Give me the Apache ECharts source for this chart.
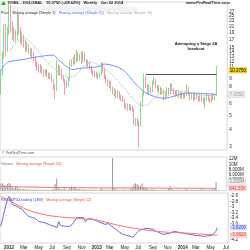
<!DOCTYPE html>
<html><head><meta charset="utf-8">
<script src="https://cdn.jsdelivr.net/npm/echarts@6/dist/echarts.min.js"></script>
<style>html,body{margin:0;padding:0;background:#fff}#c{width:250px;height:250px}</style>
</head><body><div id="c"></div>
<script>
// ---------- categories: weekly bars (Mondays) ----------
const firstWeek = [2011, 10, 28];
const weekCount = 138;
const categories = [];
for (let k = 0; k < weekCount; k++) {
  const d = new Date(Date.UTC(firstWeek[0], firstWeek[1], firstWeek[2]) + k * 7 * 864e5);
  categories.push(d.toISOString().slice(0, 10));
}
const monthNames = ['Jan','Feb','Mar','Apr','May','Jun','Jul','Aug','Sep','Oct','Nov','Dec'];

// ---------- price OHLC [open, close, low, high] ----------
const priceOHLC = [
 [7.5,10,7,10.5],[10,13,9.5,14],[13,20,12.5,22],[20,15,13,22],[15,19,14,21],
 [19,28,18.5,31],[28,21,19,30],[21,18,17,23],[18,19,16.5,21],[19,17.5,16.5,20],
 [17.5,25,17,27.5],[25,20,18.5,26],[20,17,16,21],[17,18,15.5,19.5],[18,16,15,18.5],
 [16,15,14,17],[15,15.5,14,16.5],[15.5,14,13.5,16],[14,14.5,13,15],[14.5,13,12.5,14.8],
 [13,12.5,12,14],[12.5,11.5,11,13],[11.5,11,10.3,12],[11,10.5,10,11.5],[10.5,11,10,11.5],
 [11,10.2,9.8,11.2],[10.2,9.8,9.3,10.5],[9.8,10.3,9.5,10.6],[10.3,9.6,9.2,10.5],[9.6,9.4,9,10],
 [9.4,9.6,9,10],[9.6,8.8,8.5,9.8],[8.8,8,7.6,9],[8,7.6,6.5,8.3],[7.6,11,7.4,12.3],
 [11,10,9.5,11.5],[10,10.5,9.6,11.2],[10.5,9.3,9,10.7],[9.3,8.8,8.5,9.6],[8.8,8.4,7,9],
 [8.4,8.2,7.8,8.8],[8.2,9,8,9.3],[9,12,8.8,12.3],[12,11.5,11,12.5],[11.5,12.5,11.2,13],
 [12.5,12,11.5,13.5],[12,13.8,11.8,14.5],[13.8,12.5,12,14],[12.5,12.8,12,13.5],[12.8,12,11.5,14],
 [12,13.5,11.8,14.2],[13.5,12.3,11.8,14],[12.3,11.5,11,12.5],[11.5,11.8,11,12.3],[11.8,11,10.5,12],
 [11,10.2,9.8,11.2],[10.2,10,9.5,10.6],[10,9.5,9.2,10.3],[9.5,9.8,9.2,10.2],[9.8,9.3,9,10],
 [9.3,9.8,9.1,10],[9.8,11.5,9.6,11.8],[11.5,10.5,10,11.8],[10.5,9.5,9,10.8],[9.5,8.7,8.4,9.7],
 [8.7,8.3,8,9],[8.3,8.6,7.8,8.8],[8.6,7.8,7.5,8.8],[7.8,7.2,7,8],[7.2,7.5,6.8,7.8],
 [7.5,7,6.6,7.6],[7,7.3,6.7,7.5],[7.3,6.8,6.5,7.4],[6.8,6.6,6.3,7],[6.6,6.5,6.2,6.9],
 [6.5,5.8,5.6,6.6],[5.8,5.9,5.5,6.1],[5.9,5.6,5.4,6.1],[5.6,5.8,5.4,6],[5.8,5.6,5.4,6],
 [5.6,5.5,5.3,5.9],[5.5,4.5,4.3,5.6],[4.5,4.6,4.2,4.8],[4.6,4.4,4.2,4.8],[4.4,4.3,3.0,4.6],
 [4.3,6,4.2,6.3],[6,7,5.8,7.3],[7,9.3,6.9,9.9],[9.3,8,7.8,9.5],[8,7.3,7,8.3],
 [7.3,7.8,7,8.3],[7.8,7.5,7.1,8],[7.5,8.5,7.3,8.8],[8.5,8.8,8.2,9.3],[8.8,8,7.8,9],
 [8,7.6,7.3,8.2],[7.6,7.8,7.2,8.2],[7.8,7.3,7,8],[7.3,7.5,7,7.8],[7.5,6.8,6.4,7.6],
 [6.8,7,6.5,7.3],[7,7.6,6.8,7.9],[7.6,7.2,6.9,7.8],[7.2,8.2,7,8.4],[8.2,7.6,7.4,8.4],
 [7.6,7.3,7,7.8],[7.3,7,6.7,7.5],[7,7.3,6.8,7.5],[7.3,6.9,6.6,7.4],[6.9,7.1,6.6,7.4],
 [7.1,6.8,6.5,7.3],[6.8,7,6.6,7.2],[7,6.9,6.6,7.2],[6.9,7.8,6.8,8.3],[7.8,7.2,6.9,8],
 [7.2,6.7,6.4,7.3],[6.7,7,6.5,7.2],[7,6.6,6.3,7.1],[6.6,7.1,6.4,7.3],[7.1,6.8,6.5,7.2],
 [6.8,6.4,6.2,6.9],[6.4,6.8,6.3,7],[6.8,6.5,6.2,7],[6.5,6.3,6,6.7],[6.3,6.6,5.6,6.8],
 [6.6,6.9,6.4,7.1],[6.9,6.5,6.3,7],[6.5,6.4,6.1,6.7],[6.4,6.8,6.2,7],[6.8,6.6,6.4,7.1],
 [6.6,7.0,6.4,7.1],[7.0,10.375,6.9,11.2]
];
// moving averages: [week index, value]
const maBluePts = [[0,10.3],[4,11.8],[14,12.4],[20,12.8],[32,13.3],[35,12.3],[44,10.5],[47,10.7],[59,11],[63,11.5],[74,10.5],[82,8.3],[88,7.2],[99,6.6],[113,7.2],[131,7.05]];
const maGreyPts = [[5,14],[10,16.5],[14,17.5],[20,15.5],[24,13.5],[27,12.2],[33,10.5],[40,9.3],[45,9.5],[50,11],[55,11.8],[60,11.2],[65,10.3],[70,9],[75,7.8],[80,6.6],[85,5.9],[88,5.9],[92,6.4],[97,7.2],[105,7.5],[113,7.3],[125,6.9],[131,7.0]];
const resistanceLevel = 9.8;
const resistanceFrom = 88, resistanceTo = 131;
const lastClose = 10.375;
const maBlueLast = 7.05;
const priceTicks = [3,4,5,6,8,9,11,12,13,14,15,17,19,21,23,25,27,29];

// ---------- volume (millions) ----------
const volumeM = [
 2.6,2.8,2.2,1.8,2.5,3.0,2.4,1.2,0.9,1.5,
 1.6,0.8,0.6,0.5,0.7,0.4,0.5,0.3,0.4,0.3,
 0.3,0.4,0.3,0.2,0.3,0.2,0.3,0.2,0.3,0.2,
 0.2,0.3,0.6,2.5,4.6,1.2,0.6,0.4,0.5,0.9,
 0.3,0.4,1.0,1.5,0.8,1.4,0.7,0.5,0.6,0.4,
 0.5,0.4,0.3,0.3,0.4,0.3,0.2,0.3,0.3,0.2,
 0.3,0.8,0.5,0.3,0.3,0.2,0.3,0.4,12.3,1.0,
 0.4,0.3,0.3,0.2,0.3,0.4,0.3,0.3,0.4,0.6,
 1.2,2.4,2.8,2.5,1.9,1.6,2.7,1.3,0.9,0.6,
 0.4,0.3,0.5,0.4,0.3,0.3,0.3,0.2,0.3,0.3,
 0.2,0.3,0.6,1.6,0.5,0.3,0.2,0.3,0.3,0.2,
 0.3,0.2,0.3,0.5,0.3,0.2,0.2,0.3,0.2,0.3,
 0.2,0.3,0.6,0.3,0.4,0.3,0.2,0.3,0.4,0.5,
 0.6,3.2
];
const volMAPts = [[0,1.5],[30,1.2],[60,1.0],[90,0.95],[110,0.85],[131,0.84]];
const volTicksM = [4,6,8,10,12];
const volLastLabel = '3.200M';
const volMALabel = '841.55K';

// ---------- relative strength vs S&P500 ----------
const rsPts = [[0,-3.70],[2,-3.2],[4,-2.7],[5,-2.62],[7,-2.92],[10,-2.99],[11,-3.03],[13,-3.10],[15,-3.24],[17,-3.35],[19,-3.38],[21,-3.42],[23,-3.53],[26,-3.56],[29,-3.63],[32,-3.70],[34,-3.74],[35,-3.53],[36,-3.67],[39,-3.70],[42,-3.70],[44,-3.56],[46,-3.38],[48,-3.38],[50,-3.38],[51,-3.53],[53,-3.42],[56,-3.45],[59,-3.53],[63,-3.63],[65,-3.60],[68,-3.74],[71,-3.88],[74,-3.99],[80,-4.09],[83,-3.88],[85,-3.81],[89,-3.77],[92,-3.81],[94,-3.88],[98,-3.99],[102,-3.95],[105,-3.88],[108,-3.92],[114,-3.99],[117,-4.02],[123,-4.06],[128,-4.02],[130,-3.88],[131,-3.74]];
const rsMAPts = [[0,-2.62],[4,-2.74],[17,-3.13],[29,-3.31],[39,-3.38],[49,-3.42],[59,-3.49],[74,-3.70],[94,-3.88],[114,-3.95],[131,-4.02]];
const rsTicks = [-2.6,-2.8,-3,-3.2,-3.4,-3.6,-4.2];

// ---------- build ----------
const toPairs = pts => pts.map(p => [categories[p[0]], p[1]]);
const FONT = 'Liberation Sans';
const L10 = Math.log10;
const pMin = 2.86, pMax = 31.4;

const xBase = (gi, showLabels) => ({
  type: 'category', gridIndex: gi, data: categories, boundaryGap: true,
  axisLine: {show: false}, axisTick: {show: false}, splitLine: {show: false},
  axisLabel: showLabels ? {
    fontFamily: FONT, fontSize: 4.5, color: '#222', margin: 2,
    interval: (i, v) => { const d = new Date(v); return d.getUTCDate() <= 7 && d.getUTCMonth() % 2 === 0; },
    formatter: v => { const d = new Date(v); return d.getUTCMonth() === 0 ? '{y|' + d.getUTCFullYear() + '}' : monthNames[d.getUTCMonth()]; },
    rich: {y: {fontWeight: 'bold', fontSize: 4.5, fontFamily: FONT, color: '#222'}}
  } : {show: false}
});

const hiAxis = (gi, min, max, val, text, bg, fg, border) => ({
  type: 'value', gridIndex: gi, position: 'right', min, max,
  axisLine: {show: false}, axisTick: {show: false}, splitLine: {show: false},
  axisLabel: {customValues: [val], formatter: () => text, fontFamily: FONT, fontSize: 4.5,
    color: fg, backgroundColor: bg, borderColor: border, borderWidth: border ? 0.5 : 0, padding: [0.5, 1], margin: 1.5}
});

const option = {
  animation: false,
  backgroundColor: '#fff',
  grid: [
    {left: 0, right: 18, top: 2, height: 148, show: true, borderColor: '#d6d6d6', borderWidth: 1},
    {left: 0, right: 18, top: 157, height: 33.5, show: true, borderColor: '#d6d6d6', borderWidth: 1},
    {left: 0, right: 18, top: 193, height: 50.6, show: true, borderColor: '#d6d6d6', borderWidth: 1}
  ],
  xAxis: [xBase(0, false), xBase(1, false), xBase(2, true)],
  yAxis: [
    {type: 'log', logBase: 10, gridIndex: 0, min: pMin, max: pMax, show: false},
    {type: 'value', gridIndex: 0, position: 'right', min: L10(pMin), max: L10(pMax),
     axisLine: {show: false}, axisTick: {show: false}, splitLine: {show: false},
     axisLabel: {customValues: priceTicks.map(L10), formatter: v => String(Math.round(Math.pow(10, v))),
       fontFamily: FONT, fontSize: 4.5, color: '#222', margin: 2}},
    hiAxis(0, L10(pMin), L10(pMax), L10(lastClose), '10.3750', '#f2d21b', '#000', null),
    hiAxis(0, L10(pMin), L10(pMax), L10(maBlueLast), '7.0350', '#f0f0f0', '#999', '#ccc'),
    {type: 'value', gridIndex: 1, position: 'right', min: 0, max: 12.8,
     axisLine: {show: false}, axisTick: {show: false}, splitLine: {show: false},
     axisLabel: {customValues: volTicksM, formatter: v => v >= 10 ? v + 'M' : v.toFixed(3) + 'M',
       fontFamily: FONT, fontSize: 4.5, color: '#222', margin: 2}},
    hiAxis(1, 0, 12.8, volumeM[131], volLastLabel, '#eeeeee', '#888', '#ccc'),
    hiAxis(1, 0, 12.8, volMAPts[volMAPts.length - 1][1], volMALabel, '#ffd9d9', '#e33', null),
    {type: 'value', gridIndex: 2, position: 'right', min: -4.3, max: -2.5,
     axisLine: {show: false}, axisTick: {show: false}, splitLine: {show: false},
     axisLabel: {customValues: rsTicks, fontFamily: FONT, fontSize: 4.5, color: '#222', margin: 2}},
    hiAxis(2, -4.3, -2.5, rsPts[rsPts.length - 1][1], '-3.8200', '#dcdcff', '#33c', null),
    hiAxis(2, -4.3, -2.5, rsMAPts[rsMAPts.length - 1][1], '-3.9820', '#ffd9d9', '#e33', null)
  ],
  series: [
    {type: 'candlestick', xAxisIndex: 0, yAxisIndex: 0, data: priceOHLC, barWidth: 0.8,
     itemStyle: {color: '#55cc55', color0: '#f26b8e', borderColor: '#55cc55', borderColor0: '#f26b8e', borderWidth: 0.7},
     markLine: {silent: true, symbol: 'none', label: {show: false},
       lineStyle: {color: '#555', width: 1, type: 'solid'},
       data: [[{coord: [categories[resistanceFrom], resistanceLevel]}, {coord: [categories[resistanceTo], resistanceLevel]}]]}},
    {type: 'line', xAxisIndex: 0, yAxisIndex: 0, data: toPairs(maBluePts), showSymbol: false, smooth: 0.3,
     lineStyle: {color: '#7090ff', width: 1}},
    {type: 'line', xAxisIndex: 0, yAxisIndex: 0, data: toPairs(maGreyPts), showSymbol: false, smooth: 0.3,
     lineStyle: {color: '#b0b0b0', width: 1, type: 'dotted'}},
    {type: 'bar', xAxisIndex: 1, yAxisIndex: 4, data: volumeM, barWidth: 1,
     itemStyle: {color: '#999'}},
    {type: 'line', xAxisIndex: 1, yAxisIndex: 4, data: toPairs(volMAPts), showSymbol: false, smooth: 0.3,
     lineStyle: {color: '#ff6b6b', width: 1}},
    {type: 'line', xAxisIndex: 2, yAxisIndex: 7, data: toPairs(rsPts), showSymbol: false,
     lineStyle: {color: '#6a6ae0', width: 1}},
    {type: 'line', xAxisIndex: 2, yAxisIndex: 7, data: toPairs(rsMAPts), showSymbol: false, smooth: 0.3,
     lineStyle: {color: '#ff7070', width: 1}}
  ],
  graphic: [
    {type: 'polygon', shape: {points: [[1,5],[3.5,1],[6,5]]}, style: {fill: '#2a2'}},
    {type: 'text', x: 8, y: 1, style: {text: 'DGBL - DGLOBAL   10.3750 (+58.62%)   Weekly   Jun 02 2014', font: 'bold 4px "Liberation Sans"', fill: '#222'}},
    {type: 'text', x: 230, y: 1, style: {text: 'www.ProRealTime.com', font: 'bold 4px "Liberation Sans"', fill: '#222', align: 'right'}},
    {type: 'rect', shape: {x: 0, y: 6.5, width: 137, height: 5}, style: {fill: '#f2f2f2'}},
    {type: 'text', x: 1, y: 7.3, style: {
      text: '{k|Price} {k|Moving average (Simple 1)} {b|Moving average (Simple 20)} {g|Moving average (Simple 50)}',
      rich: {k: {fill: '#222', font: '3.6px "Liberation Sans"'}, b: {fill: '#4a6cff', font: '3.6px "Liberation Sans"'}, g: {fill: '#aaa', font: '3.6px "Liberation Sans"'}}}},
    {type: 'text', x: 196, y: 41, style: {text: 'Attempting a Stage 2A\nbreakout', font: 'bold 4px "Liberation Sans"', fill: '#111', align: 'center', lineHeight: 5}},
    {type: 'text', x: 2, y: 150.8, style: {text: '© ProRealTime.com', font: '3.6px "Liberation Sans"', fill: '#555'}},
    {type: 'text', x: 1, y: 157.6, style: {
      text: '{k|Volume} {r|Moving average (Simple 52)}',
      rich: {k: {fill: '#777', font: '3.6px "Liberation Sans"'}, r: {fill: '#f44', font: '3.6px "Liberation Sans"'}}}},
    {type: 'text', x: 1, y: 193.6, style: {
      text: '{b|RS (S&P500 index) (13W)} {r|Moving average (Simple 52)}',
      rich: {b: {fill: '#33c', font: '3.6px "Liberation Sans"'}, r: {fill: '#f44', font: '3.6px "Liberation Sans"'}}}}
  ]
};
echarts.init(document.getElementById('c')).setOption(option);
</script>
</body></html>
